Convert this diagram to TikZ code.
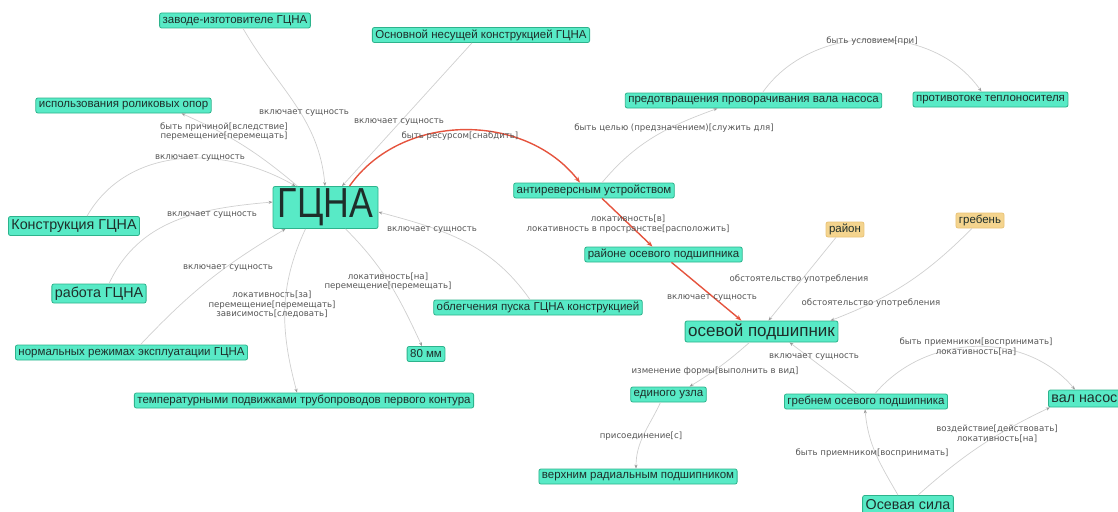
\documentclass[tikz,border=0pt]{standalone}
\usepackage{fontspec}
\setmainfont{Liberation Sans}
\newfontfamily\relfont{DejaVu Sans}
\usetikzlibrary{arrows.meta}

\definecolor{nodefill}{HTML}{58EAC6}
\definecolor{nodeedge}{HTML}{2DB38C}
\definecolor{nodetext}{HTML}{1E2E2A}
\definecolor{attrfill}{HTML}{F4D48E}
\definecolor{attredge}{HTML}{E9C378}
\definecolor{linkgray}{HTML}{CFCFCF}
\definecolor{tipgray}{HTML}{999999}
\definecolor{linkred}{HTML}{E5533D}
\definecolor{labeltext}{HTML}{555555}

\tikzset{
  concept/.style={draw=nodeedge, fill=nodefill, rounded corners=2pt, line width=0.8pt,
    inner xsep=3pt, inner ysep=0pt, text=nodetext, minimum height=15pt,
    font=\fontsize{11.5}{12}\selectfont},
  conceptmid/.style={concept, minimum height=19pt, font=\fontsize{14.3}{15}\selectfont},
  attrbox/.style={concept, draw=attredge, fill=attrfill},
  rel/.style={font=\relfont\fontsize{8.6}{9.7}\selectfont, text=labeltext,
    inner sep=0pt, align=center},
  link/.style={draw=linkgray, line width=0.7pt,
    -{Stealth[length=4pt,width=3pt,color=tipgray]}},
  keylink/.style={draw=linkred, line width=1.4pt,
    -{Stealth[length=6pt,width=4.5pt]}},
}

\begin{document}
\begin{tikzpicture}[x=1pt,y=1pt]
\useasboundingbox (0,0) rectangle (1118,-511);
\clip (0,0) rectangle (1118,-511);

% ---- concepts ----
\node[concept] (zavod) at (235,-20.5) {заводе-изготовителе ГЦНА};
\node[concept] (osnov) at (481,-35) {Основной несущей конструкцией ГЦНА};
\node[concept] (rolik) at (123.5,-105.5) {использования роликовых опор};
\node[conceptmid] (konstr) at (74,-226) {Конструкция ГЦНА};
\node[conceptmid] (rabota) at (99,-293.5) {работа ГЦНА};
\node[concept, minimum width=105pt, minimum height=42pt, inner xsep=0pt]
  (gcna) at (325.5,-207.5) {\scalebox{0.85}[1]{\fontsize{42}{44}\selectfont ГЦНА}};
\node[concept] (normal) at (131.5,-352.5) {нормальных режимах эксплуатации ГЦНА};
\node[concept] (temper) at (304,-400.5) {температурными подвижками трубопроводов первого контура};
\node[concept] (mm) at (426,-354) {80 мм};
\node[concept] (oblegch) at (538,-307.5) {облегчения пуска ГЦНА конструкцией};
\node[concept] (antirev) at (594,-190.5) {антиреверсным устройством};
\node[concept] (rayone) at (663.5,-254.5) {районе осевого подшипника};
\node[concept, minimum height=21pt, font=\fontsize{17}{18}\selectfont]
  (osevoy) at (761.5,-331.5) {осевой подшипник};
\node[concept] (edinogo) at (668.5,-394.5) {единого узла};
\node[concept] (verkhn) at (638,-476.5) {верхним радиальным подшипником};
\node[concept] (grebnem) at (866,-401.5) {гребнем осевого подшипника};
\node[conceptmid, minimum height=17pt, anchor=west] (val) at (1048,-398.5) {вал насос\hspace{14pt}};
\node[conceptmid] (osila) at (908,-505) {Осевая сила};
\node[concept] (predotvr) at (753.5,-100.5) {предотвращения проворачивания вала насоса};
\node[concept] (protivo) at (990.5,-99.5) {противотоке теплоносителя};
\node[attrbox] (rayon) at (845,-229.5) {район};
\node[attrbox] (greben) at (980,-220.5) {гребень};

% ---- connectors ----
\draw[link] ([xshift=8pt]zavod.south) to[out=-60,in=95] ([xshift=-0.5pt]gcna.north);
\draw[link] ([xshift=-9pt]osnov.south) -- ([xshift=16.5pt]gcna.north);
\draw[link] ([xshift=-28pt]gcna.north) to[bend right=8] ([xshift=58pt]rolik.south);
\draw[link] ([xshift=13pt]konstr.north) to[out=60,in=150] ([xshift=-30pt]gcna.north);
\draw[link] ([xshift=10pt]rabota.north) to[out=65,in=185] ([yshift=5.5pt]gcna.west);
\draw[link] ([xshift=9pt]normal.north) to[bend left=8] ([xshift=-40pt]gcna.south);
\draw[link] ([xshift=-20pt]gcna.south) to[out=-115,in=105] ([xshift=-7pt]temper.north);
\draw[link] ([xshift=20pt]gcna.south) to[out=-45,in=115] ([xshift=-4pt]mm.north);
\draw[link] ([xshift=-8pt]oblegch.north) to[out=125,in=-15] ([yshift=-4.5pt]gcna.east);
\draw[keylink] ([xshift=24pt]gcna.north) to[out=55,in=128] ([xshift=-14pt]antirev.north);
\draw[keylink] ([xshift=8pt]antirev.south) -- ([xshift=-11pt]rayone.north);
\draw[keylink] ([xshift=8pt]rayone.south) -- ([xshift=-20pt]osevoy.north);
\draw[link] ([xshift=8pt]antirev.north) to[out=50,in=-160] ([xshift=-36pt]predotvr.south);
\draw[link] ([xshift=9pt]predotvr.north) to[out=55,in=125] ([xshift=-9pt]protivo.north);
\draw[link] ([xshift=-9pt]rayon.south) -- ([xshift=7pt]osevoy.north);
\draw[link] ([xshift=-8pt]greben.south) to[bend left=12] ([xshift=69pt]osevoy.north);
\draw[link] ([xshift=-12pt]osevoy.south) to[bend left=5] ([xshift=21pt]edinogo.north);
\draw[link] ([xshift=-8pt]edinogo.south) to[out=-115,in=90] ([xshift=-2pt]verkhn.north);
\draw[link] ([xshift=-9pt]grebnem.north) -- ([xshift=28pt]osevoy.south);
\draw[link] ([xshift=9pt]grebnem.north) to[out=50,in=130] ([xshift=27pt]val.north west);
\draw[link] ([xshift=-10pt]osila.north) to[out=120,in=-85] ([xshift=-1pt]grebnem.south);
\draw[link] ([xshift=10pt]osila.north) to[bend left=8] ([xshift=2pt]val.south west);

% ---- relation labels ----
\node[rel] (lzavod) at (304,-113) {включает сущность};
\node[rel] (losnov) at (399,-121.5) {включает сущность};
\node[rel] (lrolik) at (224,-131.5) {быть причиной[вследствие]\\перемещение[перемещать]};
\node[rel] (lkonstr) at (200,-158) {включает сущность};
\node[rel] (lrabota) at (212,-215) {включает сущность};
\node[rel] (lnormal) at (228,-268) {включает сущность};
\node[rel] (ltemper) at (272,-304.5) {локативность[за]\\перемещение[перемещать]\\зависимость[следовать]};
\node[rel] (lmm) at (388,-281.5) {локативность[на]\\перемещение[перемещать]};
\node[rel] (loblegch) at (432,-230) {включает сущность};
\node[rel] (lantirev) at (460,-136) {быть ресурсом[снабдить]};
\node[rel] (lrayone) at (628,-224) {локативность[в]\\локативность в пространстве[расположить]};
\node[rel] (losevoy) at (712,-298) {включает сущность};
\node[rel] (lpredotvr) at (674,-128) {быть целью (предзначением)[служить для]};
\node[rel] (lprotivo) at (872,-41) {быть условием[при]};
\node[rel] (lrayon) at (799,-279) {обстоятельство употребления};
\node[rel] (lgreben) at (871,-303) {обстоятельство употребления};
\node[rel] (ledinogo) at (715,-371) {изменение формы[выполнить в вид]};
\node[rel] (lverkhn) at (641,-436) {присоединение[с]};
\node[rel] (lgrebnem) at (814,-357) {включает сущность};
\node[rel] (lval) at (976,-346.5) {быть приемником[воспринимать]\\локативность[на]};
\node[rel] (losila) at (872,-453) {быть приемником[воспринимать]};
\node[rel] (losilaval) at (997,-434) {воздействие[действовать]\\локативность[на]};
\end{tikzpicture}
\end{document}
